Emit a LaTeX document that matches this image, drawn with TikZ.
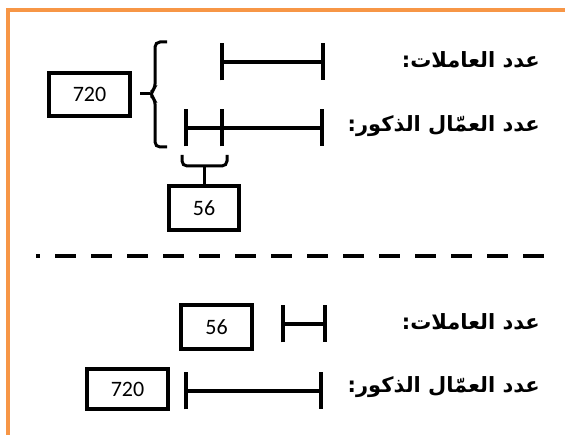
\documentclass[tikz,border=0pt]{standalone}
\usepackage{fontspec}
\setsansfont{Carlito}
\newfontfamily\arabicfont[Script=Arabic, BoldFont={DejaVu Sans Bold}]{DejaVu Sans}
\TeXXeTstate=1
\usetikzlibrary{arrows.meta, positioning}
\definecolor{framecolor}{RGB}{247,150,70}

\begin{document}
\begin{tikzpicture}[
    x=1pt, y=-1pt,
    numbox/.style={rectangle, draw, line width=4pt, minimum width=81pt, minimum height=43pt, inner sep=0pt, font=\sffamily\fontsize{22}{24}\selectfont},
    seg/.style={{Bar[width=37pt]}-{Bar[width=37pt]}, line width=4pt},
    segl/.style={{Bar[width=37pt]}-, line width=4pt},
    brc/.style={line width=3pt, rounded corners=5pt},
    label/.style={anchor=east, inner sep=0pt, font=\arabicfont\bfseries\fontsize{21}{24}\selectfont}
]
\useasboundingbox (0,0) rectangle (565,435);
\draw[framecolor, line width=4pt] (8,10) rectangle (620,480);

% top part
\node[label] (tf) at (540,60) {\beginR عدد العاملات:\endR};
\node[label] (tm) at (540,126) {\beginR عدد العمّال الذكور:\endR};
\coordinate (tf1) at (220,62);
\coordinate (tf2) at (325,62);
\coordinate (tm1) at (184,128);
\coordinate (tm2) at (220,128);
\coordinate (tm3) at (324,128);
\draw[seg] (tf1) -- (tf2);
\draw[segl] (tm1) -- (tm2);
\draw[seg] (tm2) -- (tm3);

\node[numbox] (all) at (89.5,94.5) {720};
\coordinate (bigtip) at (140,94);
\draw[brc] (167,42) -- (155,42) -- (155,89) -- (149,94) -- (155,99) -- (155,147) -- (167,147);
\draw[line width=3pt] (150,94) -- (bigtip);

\node[numbox, minimum width=70pt, minimum height=44pt] (diff) at (204,208) {56};
\coordinate (smalltip) at (204,166);
\draw[brc] (182,155) -- (182,166) -- (227,166) -- (227,155);
\draw[line width=3pt] (smalltip) -- (diff.north);

% separator
\draw[line width=4pt, dash pattern=on 21pt off 15pt, dash phase=17pt] (36,256) -- (552,256);

% bottom part
\node[label] (bf) at (540,322) {\beginR عدد العاملات:\endR};
\node[label] (bm) at (540,387) {\beginR عدد العمّال الذكور:\endR};
\coordinate (bf1) at (281,324);
\coordinate (bf2) at (327,324);
\coordinate (bm1) at (184,391);
\coordinate (bm2) at (323,391);
\draw[seg] (bf1) -- (bf2);
\draw[seg] (bm1) -- (bm2);

\node[numbox, minimum width=71pt, minimum height=44pt] (fem) at (216.5,327) {56};
\node[numbox, minimum height=40pt] (male) at (127.5,389) {720};
\end{tikzpicture}
\end{document}
